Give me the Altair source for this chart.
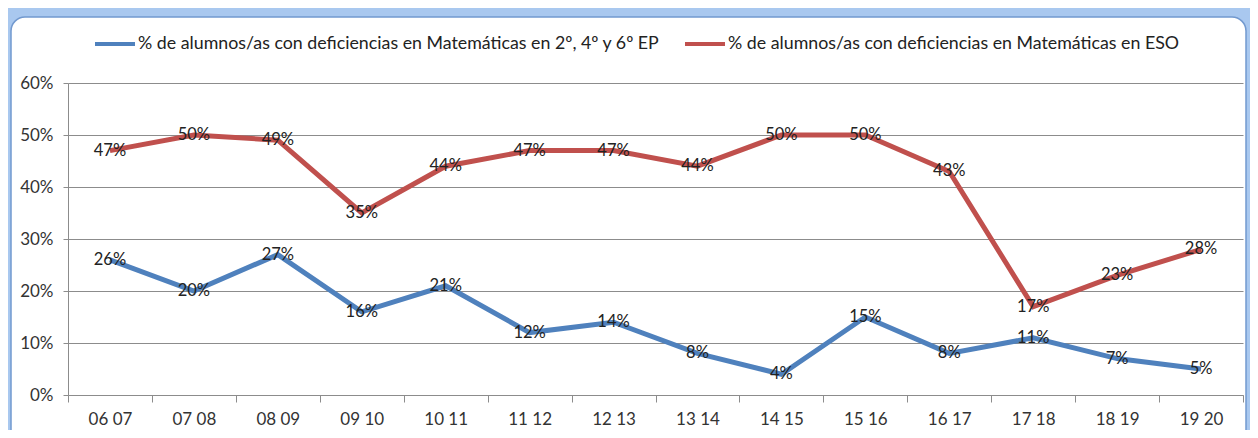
import altair as alt
import pandas as pd

cats = ["06 07", "07 08", "08  09", "09 10", "10 11", "11 12", "12 13",
        "13 14", "14 15", "15 16", "16 17", "17 18", "18 19", "19 20"]
s_ep = "% de alumnos/as con deficiencias en  Matemáticas en 2º, 4º y 6º EP"
s_eso = "% de alumnos/as con deficiencias en  Matemáticas en ESO"
ep_vals = [26, 20, 27, 16, 21, 12, 14, 8, 4, 15, 8, 11, 7, 5]
eso_vals = [47, 50, 49, 35, 44, 47, 47, 44, 50, 50, 43, 17, 23, 28]

rows = []
for c, v in zip(cats, ep_vals):
    rows.append({"cat": c, "serie": s_ep, "v": v / 100})
for c, v in zip(cats, eso_vals):
    rows.append({"cat": c, "serie": s_eso, "v": v / 100})
df = pd.DataFrame(rows)

FONT = "Lato"
W, H = 1175, 312

x_enc = alt.X("cat:N", sort=cats, title=None,
              scale=alt.Scale(type="band", paddingInner=0, paddingOuter=0),
              axis=alt.Axis(tickBand="extent", labelAngle=0, labelFontSize=17,
                            labelColor="#333333", labelFont=FONT, tickSize=7,
                            tickColor="#8c8c8c", domainColor="#8c8c8c",
                            labelPadding=9, grid=False))
y_enc = alt.Y("v:Q", title=None,
              scale=alt.Scale(domain=[0, 0.6], nice=False),
              axis=alt.Axis(values=[0, 0.1, 0.2, 0.3, 0.4, 0.5, 0.6], format=".0%",
                            labelFontSize=17, labelColor="#333333", labelFont=FONT,
                            tickSize=5, tickColor="#8c8c8c", domainColor="#8c8c8c",
                            gridColor="#8c8c8c", labelPadding=10))
color_enc = alt.Color("serie:N",
                      scale=alt.Scale(domain=[s_ep, s_eso], range=["#4f81bd", "#c0504d"]),
                      legend=alt.Legend(title=None, orient="none", legendX=25, legendY=-61,
                                        direction="horizontal", symbolType="stroke",
                                        symbolSize=1600, symbolStrokeWidth=4,
                                        labelFontSize=17.8, labelFont=FONT, labelColor="#222222",
                                        labelLimit=800, columnPadding=12, labelOffset=1))

frame_df = pd.DataFrame({"k": [0]})
frame_outer = alt.Chart(frame_df).mark_rect(
    fillOpacity=0, stroke="#a9c8ef", strokeWidth=40, cornerRadius=34
).encode(x=alt.value(-77), x2=alt.value(1198), y=alt.value(-86), y2=alt.value(385))
frame_inner = alt.Chart(frame_df).mark_rect(
    fillOpacity=0, stroke="#7299cf", strokeWidth=1.5, cornerRadius=14
).encode(x=alt.value(-57), x2=alt.value(1178), y=alt.value(-66), y2=alt.value(365))

lines = alt.Chart(df).mark_line(strokeWidth=5).encode(x=x_enc, y=y_enc, color=color_enc)
labels = alt.Chart(df).mark_text(fontSize=16.5, font=FONT, color="#222222",
                                 align="center", baseline="middle").encode(
    x=alt.X("cat:N", sort=cats), y="v:Q", text=alt.Text("v:Q", format=".0%"))

chart = alt.layer(frame_outer, frame_inner, lines, labels).properties(
    width=W, height=H,
    autosize=alt.AutoSizeParams(type="none"),
    padding={"left": 60, "top": 75, "right": 7, "bottom": 35},
    background="white",
).configure_view(stroke=None)

chart.save("out.html", embed_options={"renderer": "svg", "actions": False})
